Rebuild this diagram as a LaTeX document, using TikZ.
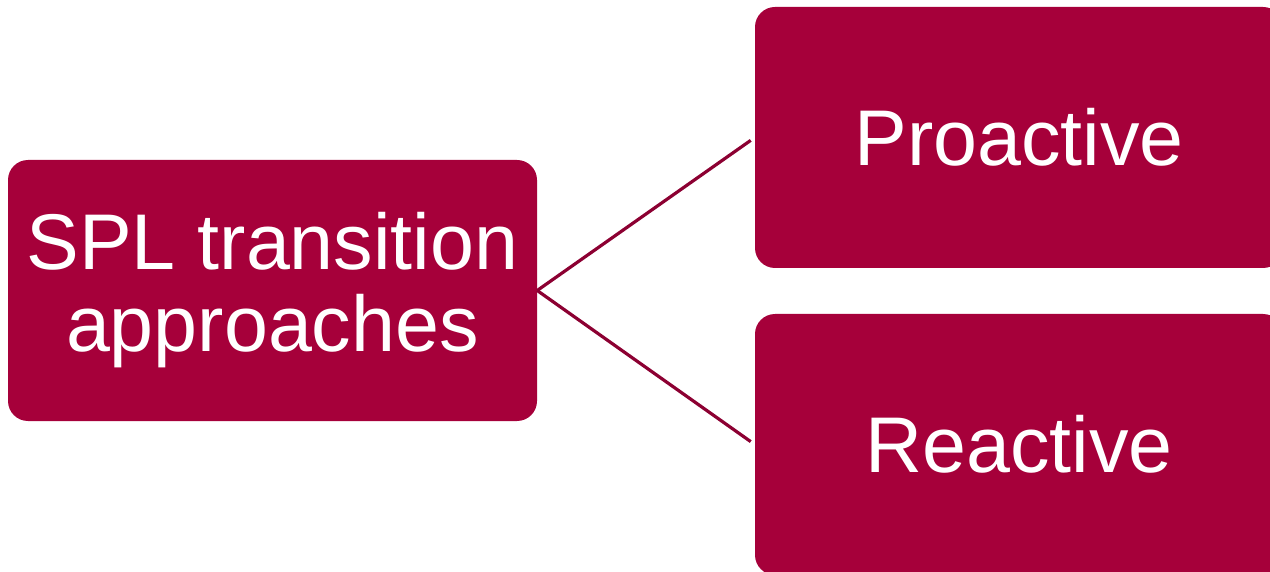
\documentclass[tikz,border=0pt]{standalone}
\usepackage{fontspec}
\setmainfont{Liberation Sans}
\definecolor{boxred}{HTML}{A6003A}
\definecolor{linkred}{HTML}{8C0032}
\begin{document}
\begin{tikzpicture}[x=1pt,y=-1pt,
  block/.style={fill=boxred, text=white, rounded corners=20pt, inner sep=0pt,
    minimum width=529pt, minimum height=261pt, align=center,
    font=\fontsize{79}{82}\selectfont},
  link/.style={draw=linkred, line width=3.2pt, shorten >=5pt}]
\useasboundingbox (0,0) rectangle (1270,572);
\node[block] (spl) at (272.5,290.5) {SPL transition\\approaches};
\node[block, minimum width=528pt] (pro) at (1019,137.5) {Proactive};
\node[block, minimum width=528pt] (rea) at (1019,444.5) {Reactive};
\draw[link] (spl.east) -- (pro.west);
\draw[link] (spl.east) -- (rea.west);
\end{tikzpicture}
\end{document}
